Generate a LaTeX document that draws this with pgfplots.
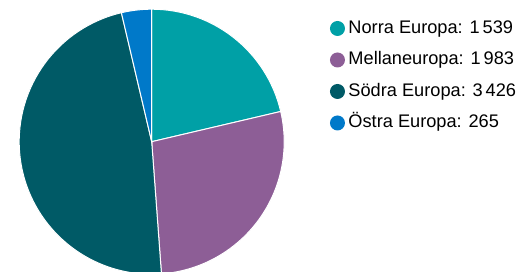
\documentclass[border=0pt]{standalone}
\usepackage{pgfplots}
\usepackage{pgfplotstable}
\pgfplotsset{compat=1.18}
\usepackage{fontspec}
\setmainfont{Liberation Sans}
\definecolor{cA}{HTML}{00A0A6}
\definecolor{cB}{HTML}{8D5E96}
\definecolor{cC}{HTML}{005A66}
\definecolor{cD}{HTML}{0079C9}
\pgfplotstableread{
label value
Norra 1539
Mellan 1983
Sodra 3426
Ostra 265
}\piedata
\begin{document}
\begin{tikzpicture}
\path[use as bounding box] (0pt,0pt) rectangle (522pt,271pt);
% totals and angles
\gdef\total{0}
\pgfplotstableforeachcolumnelement{value}\of\piedata\as\v{%
  \pgfmathsetmacro\tmp{\total+\v}\xdef\total{\tmp}}
\gdef\cum{0}
\pgfplotstableforeachcolumnelement{value}\of\piedata\as\v{%
  \pgfmathsetmacro\s{90-(\cum/\total)*360}%
  \pgfmathsetmacro\nc{\cum+\v}%
  \pgfmathsetmacro\e{90-(\nc/\total)*360}%
  \expandafter\xdef\csname sa\pgfplotstablerow\endcsname{\s}%
  \expandafter\xdef\csname ea\pgfplotstablerow\endcsname{\e}%
  \xdef\cum{\nc}}
\begin{axis}[
  hide axis, clip=false,
  x=132.5pt, y=132.5pt,
  xmin=-1, xmax=1, ymin=-1, ymax=1,
  anchor=origin, at={(151.7pt,129.3pt)},
  legend image code/.code={\path[fill=none, draw=none] (-7.5pt,-7.5pt) rectangle (11pt,7.5pt);\fill[#1, draw=none] (0pt,0pt) circle (7.5pt);},
  legend cell align=left,
  legend style={draw=none, fill=none, at={(axis description cs:1.172,0.962)}, anchor=north west,
    inner sep=0pt, row sep=13.5pt, column sep=0pt,
    font=\fontsize{18.2}{22}\selectfont,
    nodes={inner xsep=0pt, inner ysep=0pt, text height=14pt, text depth=4pt}},
]
\fill[cA, draw=white, line width=1pt] (axis cs:0,0) -- (axis cs:{cos(\csname sa0\endcsname)},{sin(\csname sa0\endcsname)}) arc[start angle=\csname sa0\endcsname, end angle=\csname ea0\endcsname, radius=132.5pt] -- cycle;
\fill[cB, draw=white, line width=1pt] (axis cs:0,0) -- (axis cs:{cos(\csname sa1\endcsname)},{sin(\csname sa1\endcsname)}) arc[start angle=\csname sa1\endcsname, end angle=\csname ea1\endcsname, radius=132.5pt] -- cycle;
\fill[cC, draw=white, line width=1pt] (axis cs:0,0) -- (axis cs:{cos(\csname sa2\endcsname)},{sin(\csname sa2\endcsname)}) arc[start angle=\csname sa2\endcsname, end angle=\csname ea2\endcsname, radius=132.5pt] -- cycle;
\fill[cD, draw=white, line width=1pt] (axis cs:0,0) -- (axis cs:{cos(\csname sa3\endcsname)},{sin(\csname sa3\endcsname)}) arc[start angle=\csname sa3\endcsname, end angle=\csname ea3\endcsname, radius=132.5pt] -- cycle;
\addlegendimage{fill=cA}\addlegendentry{Norra Europa: 1\,539}
\addlegendimage{fill=cB}\addlegendentry{Mellaneuropa: 1\,983}
\addlegendimage{fill=cC}\addlegendentry{Södra Europa: 3\,426}
\addlegendimage{fill=cD}\addlegendentry{Östra Europa: 265}
\end{axis}
\end{tikzpicture}
\end{document}
